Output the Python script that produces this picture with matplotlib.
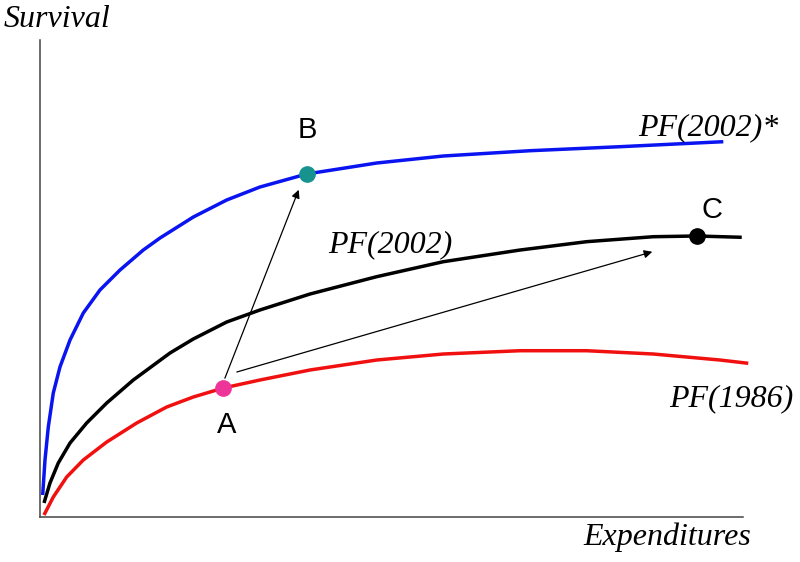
import matplotlib
matplotlib.use("Agg")
import matplotlib.pyplot as plt

# curves in axis units (0..100 on both axes)
blue_x = [0.38, 0.71, 1.18, 1.89, 2.84, 4.27, 6.16, 8.53, 11.38, 14.69, 17.07, 21.81, 26.56,
          31.29, 37.94, 47.89, 57.37, 69.70, 82.50, 97.20]
blue_y = [4.61, 11.95, 18.87, 26.00, 31.45, 37.11, 42.77, 47.59, 51.78, 55.97, 58.49, 62.89, 66.46,
          69.18, 71.91, 74.21, 75.68, 76.79, 77.63, 78.68]

black_x = [0.57, 1.42, 2.60, 4.27, 6.64, 9.49, 13.27, 18.49, 21.81, 26.56, 31.29, 38.41, 47.89,
           57.37, 68.28, 77.77, 87.24, 93.41, 99.82]
black_y = [2.94, 7.13, 11.32, 15.51, 19.71, 23.90, 28.72, 34.38, 37.32, 40.88, 43.40, 46.75, 50.38,
           53.52, 55.97, 57.72, 58.76, 58.91, 58.64]

red_x = [0.57, 1.89, 3.80, 6.16, 9.49, 13.76, 18.02, 21.81, 26.07, 31.29, 38.41, 47.89, 57.37,
         68.28, 77.77, 87.24, 96.73, 100.75]
red_y = [0.42, 4.19, 8.39, 11.95, 15.72, 19.71, 23.06, 25.16, 27.04, 28.72, 30.82, 32.91, 34.17,
         34.86, 34.86, 34.17, 32.91, 32.22]

points = {"A": (26.07, 27.04), "B": (37.94, 71.91), "C": (93.41, 58.91)}
point_colors = {"A": "#ee3399", "B": "#16938f", "C": "black"}
arrows = [((26.3, 29.1), (36.8, 68.6)), ((28.0, 30.4), (87.1, 55.6))]

curve_labels = ["PF(2002)*", "PF(2002)", "PF(1986)"]
curve_label_pos = [(95.0, 81.6), (49.8, 57.0), (98.3, 24.9)]
point_label_pos = {"A": (26.5, 19.3), "B": (38.0, 81.1), "C": (95.6, 64.4)}

serif = ["Liberation Serif", "DejaVu Serif"]

fig = plt.figure(figsize=(8, 5.62), dpi=100)
ax = fig.add_axes([40 / 800, 45 / 562, 703 / 800, 477 / 562])
ax.set_xlim(0, 100)
ax.set_ylim(0, 100)
for side in ("top", "right"):
    ax.spines[side].set_visible(False)
for side in ("left", "bottom"):
    ax.spines[side].set_color("#444444")
    ax.spines[side].set_linewidth(1.1)
ax.set_xticks([])
ax.set_yticks([])

style = dict(lw=2.5, clip_on=False, solid_joinstyle="round", solid_capstyle="butt")
ax.plot(blue_x, blue_y, color="#0a14f0", **style)
ax.plot(black_x, black_y, color="black", **style)
ax.plot(red_x, red_y, color="#f01010", **style)

for (x0, y0), (x1, y1) in arrows:
    ax.annotate("", xy=(x1, y1), xytext=(x0, y0),
                arrowprops=dict(arrowstyle="-|>", color="black", lw=0.9,
                                mutation_scale=12, shrinkA=0, shrinkB=0))

for name, (px, py) in points.items():
    ax.plot(px, py, "o", color=point_colors[name], ms=11, zorder=5, clip_on=False)
    lx, ly = point_label_pos[name]
    ax.text(lx, ly, name, fontsize=21, ha="center", va="center",
            family=["Liberation Sans", "DejaVu Sans"], clip_on=False)

for lab, (lx, ly) in zip(curve_labels, curve_label_pos):
    ax.text(lx, ly, lab, fontsize=23, style="italic", ha="center", va="center",
            family=serif, clip_on=False)

ax.text(2.4, 104.2, "Survival", fontsize=23, style="italic", ha="center", va="center",
        family=serif, clip_on=False)
ax.text(89.2, -4.2, "Expenditures", fontsize=23, style="italic", ha="center", va="center",
        family=serif, clip_on=False)

fig.savefig("out.png", dpi=100)
